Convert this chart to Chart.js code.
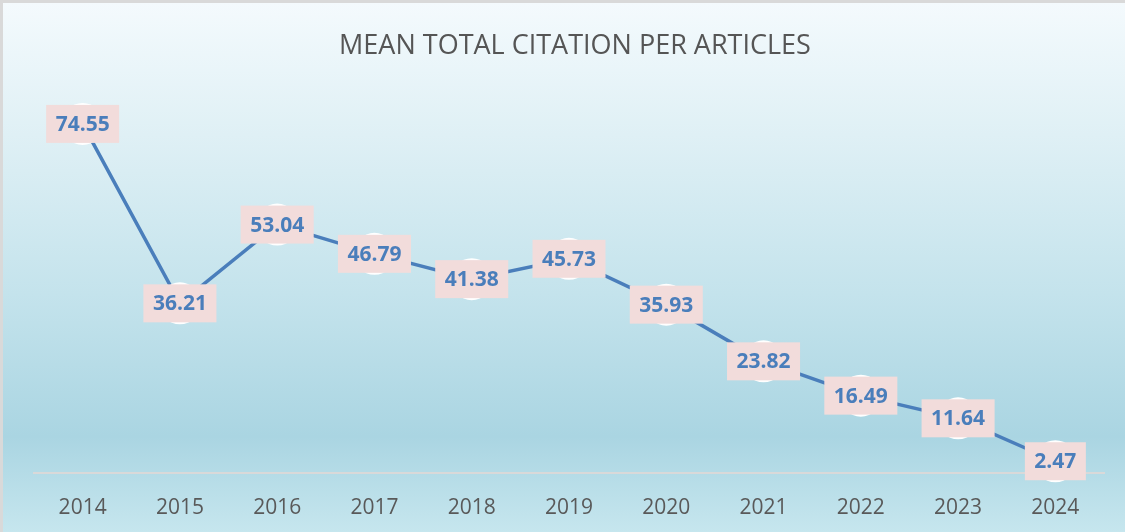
<!DOCTYPE html>
<html>
<head>
<meta charset="utf-8">
<script src="https://cdn.jsdelivr.net/npm/chart.js@4/dist/chart.umd.min.js"></script>
<style>
  html, body { margin: 0; padding: 0; }
  body { width: 1125px; height: 532px; overflow: hidden; }
  .wrap {
    position: relative; width: 1125px; height: 532px; box-sizing: border-box;
    border-top: 3px solid #d9d9d9; border-left: 3px solid #d9d9d9;
    background: linear-gradient(to bottom, #f4fafd 0%, #dff0f5 25%, #c4e3ec 55%, #aad5e2 82%, #c6e6ee 100%);
  }
  canvas { position: absolute; left: -3px; top: -3px; }
</style>
</head>
<body>
<div class="wrap"><canvas id="c" width="1125" height="532"></canvas></div>
<script>
const years = ['2014','2015','2016','2017','2018','2019','2020','2021','2022','2023','2024'];
const meanCitations = [74.55, 36.21, 53.04, 46.79, 41.38, 45.73, 35.93, 23.82, 16.49, 11.64, 2.47];

const BLUE = '#4a7ebb';
const FONT = '"Open Sans", "Noto Sans", sans-serif';

// labels in pink boxes on top of each point
const boxLabels = {
  id: 'boxLabels',
  afterDatasetsDraw(chart) {
    const ctx = chart.ctx;
    const meta = chart.getDatasetMeta(0);
    ctx.save();
    ctx.font = 'bold 21px ' + FONT;
    ctx.textAlign = 'center';
    ctx.textBaseline = 'middle';
    meta.data.forEach((pt, i) => {
      const txt = meanCitations[i].toFixed(2);
      const w = ctx.measureText(txt).width + 19;
      const h = 38;
      ctx.fillStyle = '#f2dcdb';
      ctx.fillRect(pt.x - w / 2, pt.y - h / 2, w, h);
      ctx.fillStyle = BLUE;
      ctx.fillText(txt, pt.x, pt.y + 1);
    });
    ctx.restore();
  }
};

new Chart(document.getElementById('c'), {
  type: 'line',
  data: {
    labels: years,
    datasets: [{
      data: meanCitations,
      borderColor: BLUE,
      borderWidth: 3.5,
      pointRadius: 21,
      pointBackgroundColor: '#ffffff',
      pointBorderColor: '#ffffff',
      pointBorderWidth: 0,
      tension: 0,
      clip: false
    }]
  },
  options: {
    responsive: false,
    animation: false,
    events: [],
    layout: { padding: { left: 34, right: 9, bottom: -12 } },
    plugins: {
      legend: { display: false },
      tooltip: { enabled: false },
      title: {
        display: true,
        text: 'MEAN TOTAL CITATION PER ARTICLES',
        color: '#555555',
        font: { family: FONT, size: 27, weight: 'normal' },
        padding: { top: 30, bottom: 36 }
      }
    },
    scales: {
      x: {
        offset: true,
        grid: { display: false, drawTicks: false },
        border: { display: true, color: '#d9d9d9', width: 2 },
        ticks: { color: '#595959', font: { family: FONT, size: 21 }, padding: 23 }
      },
      y: {
        display: false,
        min: 0,
        max: 80
      }
    }
  },
  plugins: [boxLabels]
});
</script>
</body>
</html>
